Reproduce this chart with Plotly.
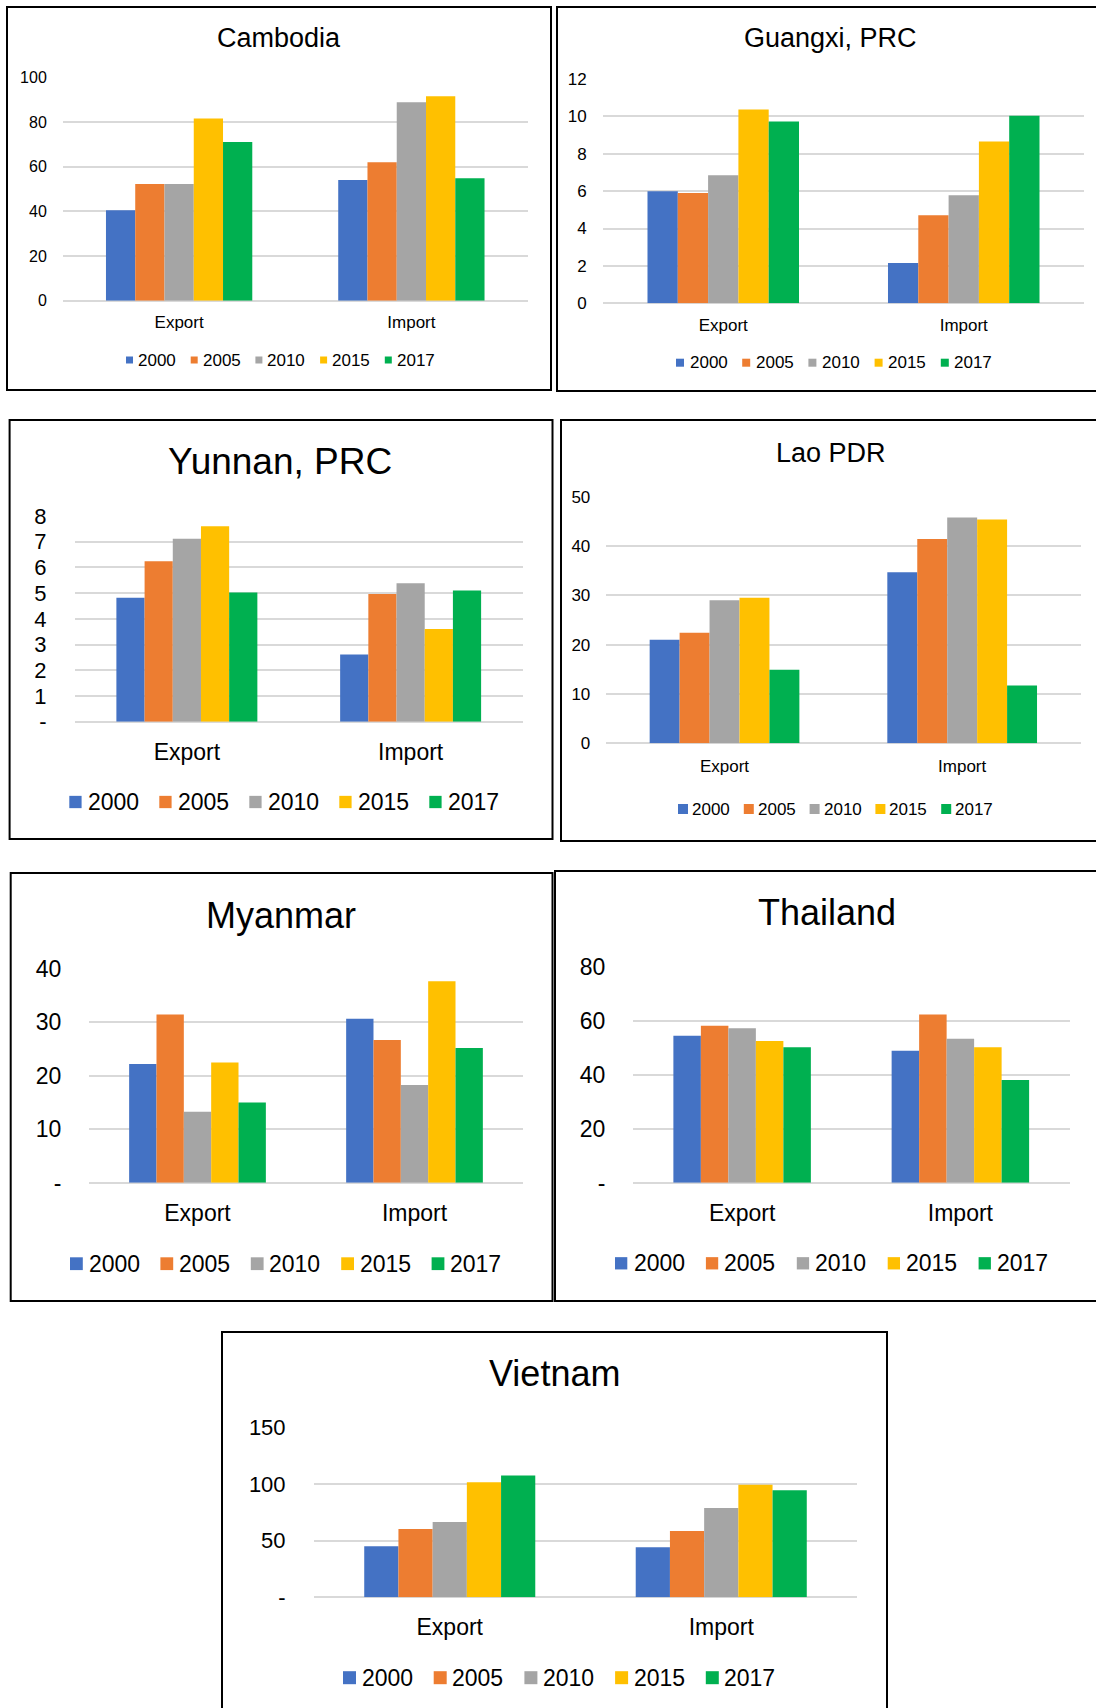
import plotly.graph_objects as go

# Figure canvas (pixels)
W, H = 1096, 1708

years = ["2000", "2005", "2010", "2015", "2017"]
flows = ["Export", "Import"]
year_colors = ["#4472C4", "#ED7D31", "#A5A5A5", "#FFC000", "#00B050"]

# Trade shares by year: values listed in the order of `years`
cambodia_export = [40.5, 52.2, 52.2, 81.6, 71.0]
cambodia_import = [54.0, 62.0, 88.8, 91.5, 54.8]

guangxi_export = [6.0, 5.9, 6.85, 10.37, 9.73]
guangxi_import = [2.16, 4.71, 5.78, 8.65, 10.04]

yunnan_export = [4.82, 6.24, 7.12, 7.6, 5.02]
yunnan_import = [2.61, 4.97, 5.38, 3.61, 5.1]

lao_export = [21.0, 22.4, 29.0, 29.5, 14.9]
lao_import = [34.7, 41.4, 45.8, 45.4, 11.7]

myanmar_export = [22.2, 31.5, 13.3, 22.5, 15.0]
myanmar_import = [30.7, 26.7, 18.3, 37.7, 25.2]

thailand_export = [54.4, 58.1, 57.2, 52.5, 50.2]
thailand_import = [48.9, 62.3, 53.3, 50.2, 38.0]

vietnam_export = [45.0, 60.3, 66.5, 101.5, 107.4]
vietnam_import = [44.1, 58.5, 78.8, 99.4, 94.4]

# Y-axis tick values and labels
cambodia_ticks = [0, 20, 40, 60, 80, 100]
cambodia_ticktext = ["0", "20", "40", "60", "80", "100"]
guangxi_ticks = [0, 2, 4, 6, 8, 10, 12]
guangxi_ticktext = ["0", "2", "4", "6", "8", "10", "12"]
yunnan_ticks = [0, 1, 2, 3, 4, 5, 6, 7, 8]
yunnan_ticktext = ["-", "1", "2", "3", "4", "5", "6", "7", "8"]
lao_ticks = [0, 10, 20, 30, 40, 50]
lao_ticktext = ["0", "10", "20", "30", "40", "50"]
myanmar_ticks = [0, 10, 20, 30, 40]
myanmar_ticktext = ["-", "10", "20", "30", "40"]
thailand_ticks = [0, 20, 40, 60, 80]
thailand_ticktext = ["-", "20", "40", "60", "80"]
vietnam_ticks = [0, 50, 100, 150]
vietnam_ticktext = ["-", "50", "100", "150"]

ARIAL = "Liberation Sans, Arial, Helvetica, sans-serif"

# Panel layout in pixels: frame box, plot area, text sizes and legend placement
panels = [
    dict(name="Cambodia", exp=cambodia_export, imp=cambodia_import,
         ticks=cambodia_ticks, ticktext=cambodia_ticktext,
         box=(7, 7, 551, 390), plot=(63, 77.3, 527.5, 300.7),
         title_xy=(279, 38), title_size=27, tick_size=16, cat_size=17,
         ytl=12, xtl=6,
         leg=dict(y=360, first=126, pitch=64.7, sq=7, off=11, size=17)),
    dict(name="Guangxi, PRC", exp=guangxi_export, imp=guangxi_import,
         ticks=guangxi_ticks, ticktext=guangxi_ticktext,
         box=(557, 7, 1110, 391), plot=(603, 79, 1084, 303.3),
         title_xy=(830, 38), title_size=27, tick_size=17, cat_size=17,
         ytl=12, xtl=6,
         leg=dict(y=362.7, first=676, pitch=66.2, sq=8, off=12.6, size=17)),
    dict(name="Yunnan, PRC", exp=yunnan_export, imp=yunnan_import,
         ticks=yunnan_ticks, ticktext=yunnan_ticktext,
         box=(9.6, 420, 552.5, 839), plot=(75, 516, 522.5, 721.7),
         title_xy=(280, 462), title_size=37, tick_size=22, cat_size=23,
         ytl=23, xtl=9.5,
         leg=dict(y=802, first=69.3, pitch=90, sq=12.3, off=17.4, size=23)),
    dict(name="Lao PDR", exp=lao_export, imp=lao_import,
         ticks=lao_ticks, ticktext=lao_ticktext,
         box=(561, 420, 1110, 841), plot=(605.7, 496.7, 1081, 743.3),
         title_xy=(831, 453), title_size=27, tick_size=17, cat_size=17,
         ytl=11, xtl=7,
         leg=dict(y=809, first=678, pitch=65.8, sq=10, off=13, size=17)),
    dict(name="Myanmar", exp=myanmar_export, imp=myanmar_import,
         ticks=myanmar_ticks, ticktext=myanmar_ticktext,
         box=(10.7, 873, 552.5, 1301), plot=(89, 969, 523, 1182.7),
         title_xy=(281, 915), title_size=36, tick_size=23, cat_size=23,
         ytl=22, xtl=9.5,
         leg=dict(y=1263.7, first=70, pitch=90.4, sq=12.8, off=17.5, size=23)),
    dict(name="Thailand", exp=thailand_export, imp=thailand_import,
         ticks=thailand_ticks, ticktext=thailand_ticktext,
         box=(555, 871, 1110, 1301), plot=(633, 966.7, 1069.5, 1182.7),
         title_xy=(827, 912), title_size=36, tick_size=23, cat_size=23,
         ytl=22, xtl=9.5,
         leg=dict(y=1263.3, first=615, pitch=90.9, sq=12.3, off=17.5, size=23)),
    dict(name="Vietnam", exp=vietnam_export, imp=vietnam_import,
         ticks=vietnam_ticks, ticktext=vietnam_ticktext,
         box=(222, 1332, 887, 1720), plot=(314, 1427.3, 857, 1597.3),
         title_xy=(554.6, 1373), title_size=36, tick_size=22, cat_size=23,
         ytl=23, xtl=9.5,
         leg=dict(y=1677.7, first=343, pitch=90.7, sq=13, off=17.5, size=23)),
]


def px_x(x):
    return x / W


def px_y(y):
    return 1 - y / H


fig = go.Figure()
shapes = []
annotations = []
layout_axes = {}

for i, p in enumerate(panels, start=1):
    sfx = "" if i == 1 else str(i)
    xa, ya = "x" + sfx, "y" + sfx

    # One bar trace per year; each trace holds the Export and Import values
    for k, yr in enumerate(years):
        fig.add_trace(go.Bar(
            x=flows, y=[p["exp"][k], p["imp"][k]], name=yr,
            marker=dict(color=year_colors[k], line=dict(width=0)),
            xaxis=xa, yaxis=ya, showlegend=False,
            hovertemplate=p["name"] + " %{x} " + yr + ": %{y}<extra></extra>",
        ))

    pl, pt, pr, pb = p["plot"]
    layout_axes["xaxis" + sfx] = dict(
        domain=[px_x(pl), px_x(pr)], anchor=ya, type="category",
        range=[-0.5, 1.5], showgrid=False, zeroline=False, showline=False,
        automargin=False,
        ticks="outside", ticklen=p["xtl"], tickcolor="rgba(0,0,0,0)",
        tickfont=dict(family=ARIAL, size=p["cat_size"], color="#000000"),
        fixedrange=True,
    )
    layout_axes["yaxis" + sfx] = dict(
        domain=[px_y(pb), px_y(pt)], anchor=xa,
        range=[p["ticks"][0], p["ticks"][-1]], automargin=False,
        tickmode="array", tickvals=p["ticks"], ticktext=p["ticktext"],
        showgrid=True, gridcolor="#D9D9D9", gridwidth=1.6,
        zeroline=True, zerolinecolor="#D9D9D9", zerolinewidth=1.6,
        showline=False, ticks="outside", ticklen=p["ytl"], tickcolor="rgba(0,0,0,0)",
        tickfont=dict(family=ARIAL, size=p["tick_size"], color="#000000"),
        fixedrange=True,
    )

    # Frame around the panel
    bl, bt, br, bb = p["box"]
    shapes.append(dict(type="rect", xref="paper", yref="paper",
                       x0=px_x(bl), x1=px_x(br), y0=px_y(bb), y1=px_y(bt),
                       line=dict(color="#000000", width=2), fillcolor="rgba(0,0,0,0)",
                       layer="above"))

    # Panel title
    tx, ty = p["title_xy"]
    annotations.append(dict(text=p["name"], x=px_x(tx), y=px_y(ty),
                            xref="paper", yref="paper", xanchor="center", yanchor="middle",
                            showarrow=False,
                            font=dict(family=ARIAL, size=p["title_size"], color="#000000")))

    # Legend: colour square followed by the year
    lg = p["leg"]
    for k, yr in enumerate(years):
        sx = lg["first"] + k * lg["pitch"]
        s = lg["sq"]
        shapes.append(dict(type="rect", xref="paper", yref="paper",
                           x0=px_x(sx), x1=px_x(sx + s),
                           y0=px_y(lg["y"] + s / 2), y1=px_y(lg["y"] - s / 2),
                           line=dict(width=0), fillcolor=year_colors[k]))
        annotations.append(dict(text=yr, x=px_x(sx + lg["off"]), y=px_y(lg["y"]),
                                xref="paper", yref="paper", xanchor="left", yanchor="middle",
                                showarrow=False, borderpad=0,
                                font=dict(family=ARIAL, size=lg["size"], color="#000000")))

fig.update_layout(
    template="none",
    width=W, height=H, autosize=False,
    margin=dict(l=0, r=0, t=0, b=0, pad=0, autoexpand=False),
    paper_bgcolor="#FFFFFF", plot_bgcolor="rgba(0,0,0,0)",
    barmode="group", bargap=0.37, bargroupgap=0,
    showlegend=False,
    shapes=shapes, annotations=annotations,
    **layout_axes,
)

fig.write_html("out.html", config=dict(displayModeBar=False))
